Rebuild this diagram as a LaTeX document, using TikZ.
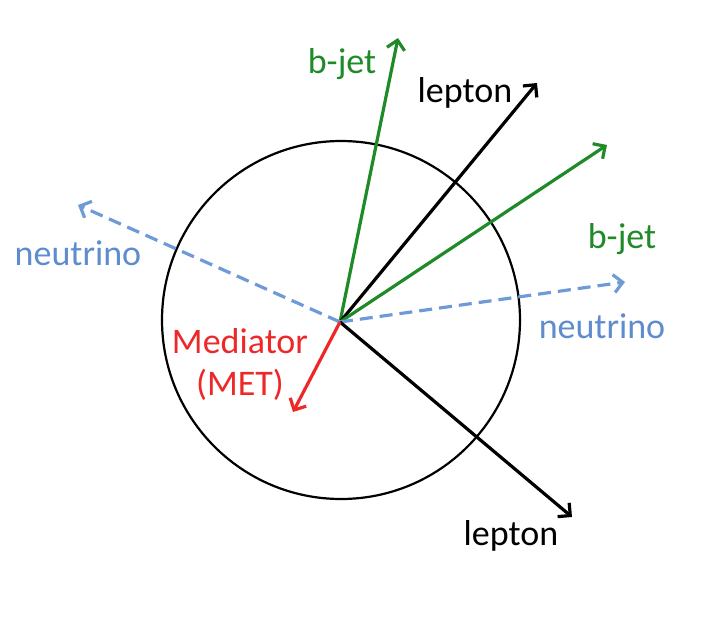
\documentclass[tikz,border=0pt]{standalone}
\usepackage{fontspec}
\setmainfont{Carlito}
\usetikzlibrary{arrows.meta}
\definecolor{jetgreen}{RGB}{30,138,40}
\definecolor{nublue}{RGB}{110,155,215}
\definecolor{nutext}{RGB}{95,140,205}
\definecolor{medred}{RGB}{238,40,40}
\tikzset{
  vec/.style={line width=3.2pt,-{Straight Barb[length=9pt,width=18pt,line width=3.2pt]}},
  jet/.style={vec,draw=jetgreen},
  lep/.style={vec,draw=black},
  nu/.style={vec,draw=nublue,dash pattern=on 13pt off 7pt},
  med/.style={vec,draw=medred},
  lbl/.style={font=\fontsize{36}{42}\selectfont,anchor=base,inner sep=0pt}
}
\begin{document}
\begin{tikzpicture}[x=1pt,y=-1pt]
\useasboundingbox (0,0) rectangle (704,624);
\draw[line width=2.2pt] (341,320) circle[radius=179];
\coordinate (o) at (340,322);
\coordinate (bj1) at (398,38);
\coordinate (l1) at (537,83);
\coordinate (bj2) at (607,145);
\coordinate (nu2) at (625,282);
\coordinate (nu1) at (78,205);
\coordinate (l2) at (572,517);
\coordinate (m) at (293,412);
\draw[jet] (o) -- (bj1);
\draw[lep] (o) -- (l1);
\draw[jet] (o) -- (bj2);
\draw[nu] (o) -- (nu2);
\draw[nu] (o) -- (nu1);
\draw[lep] (o) -- (l2);
\draw[med] (o) -- (m);
\node[lbl,text=jetgreen] (tbj1) at (342,73) {b-jet};
\node[lbl] (tl1) at (465,102) {lepton};
\node[lbl,text=jetgreen] (tbj2) at (622,248) {b-jet};
\node[lbl,text=nutext] (tnu2) at (602,338) {neutrino};
\node[lbl,text=nutext] (tnu1) at (78,265) {neutrino};
\node[lbl] (tl2) at (511,545) {lepton};
\node[lbl,text=medred] (tm1) at (240,353) {Mediator};
\node[lbl,text=medred] (tm2) at (240,395) {(MET)};
\end{tikzpicture}
\end{document}
